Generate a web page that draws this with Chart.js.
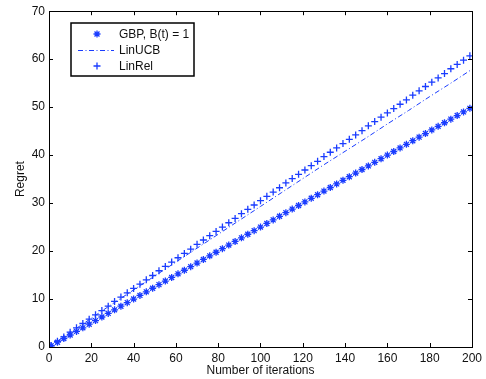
<!DOCTYPE html>
<html lang="en">
<head>
<meta charset="UTF-8">
<title>Regret vs number of iterations</title>
<script src="https://cdn.jsdelivr.net/npm/chart.js"></script>
<style>
  html, body { margin: 0; padding: 0; background: #fff; }
  #wrap { width: 486px; height: 379px; }
</style>
</head>
<body>
<div id="wrap"><canvas id="chart"></canvas></div>
<script>
// iterations where markers are drawn
const iterations = [1,4,7,10,13,16,19,22,25,28,31,34,37,40,43,46,49,52,55,58,61,64,67,70,73,76,79,82,85,88,91,94,97,100,103,106,109,112,115,118,121,124,127,130,133,136,139,142,145,148,151,154,157,160,163,166,169,172,175,178,181,184,187,190,193,196,199];

const gbpRegret = [0.25,1.0,1.75,2.5,3.25,4.0,4.75,5.5,6.25,7.0,7.75,8.5,9.25,10.0,10.75,11.5,12.25,13.0,13.75,14.5,15.25,16.0,16.75,17.5,18.25,19.0,19.75,20.5,21.25,22.0,22.75,23.5,24.25,25.0,25.75,26.5,27.25,28.0,28.75,29.5,30.25,31.0,31.75,32.5,33.25,34.0,34.75,35.5,36.25,37.0,37.75,38.5,39.25,40.0,40.75,41.5,42.25,43.0,43.75,44.5,45.25,46.0,46.75,47.5,48.25,49.0,49.75];

const linRelRegret = [0.3,1.2,2.1,3.1,4.0,4.9,5.8,6.7,7.6,8.5,9.5,10.4,11.3,12.2,13.1,14.0,14.9,15.9,16.8,17.7,18.6,19.5,20.4,21.4,22.3,23.2,24.1,25.0,25.9,26.8,27.8,28.7,29.6,30.5,31.4,32.3,33.2,34.2,35.1,36.0,36.9,37.8,38.7,39.7,40.6,41.5,42.4,43.3,44.2,45.1,46.1,47.0,47.9,48.8,49.7,50.6,51.5,52.5,53.4,54.3,55.2,56.1,57.0,58.0,58.9,59.8,60.7];

// LinUCB is drawn as a plain dash-dot line
const linUcbIterations = [0,10,20,30,40,50,60,70,80,90,100,110,120,130,140,150,160,170,180,190,200];
const linUcbRegret = [0,3.0,6.0,9.0,11.9,14.8,17.7,20.6,23.5,26.4,29.3,32.2,35.1,38.0,40.8,43.6,46.5,49.3,52.2,55.0,57.9];

const seriesNames = ['GBP, B(t) = 1', 'LinUCB', 'LinRel'];
const xTicks = [0,20,40,60,80,100,120,140,160,180,200];
const yTicks = [0,10,20,30,40,50,60,70];

const BLUE = '#1a3cff';
const FONT = 'Liberation Sans, Arial, Helvetica, sans-serif';

const pts = (xs, ys) => xs.map((x, i) => ({ x: x, y: ys[i] }));

// box around the axes with inward ticks on all four sides, matlab style
const framePlugin = {
  id: 'frame',
  afterDatasetsDraw(chart) {
    const { ctx, chartArea: a, scales } = chart;
    ctx.save();
    ctx.strokeStyle = '#000';
    ctx.lineWidth = 1;
    ctx.strokeRect(Math.round(a.left) + 0.5, Math.round(a.top) + 0.5,
      Math.round(a.right - a.left), Math.round(a.bottom - a.top));
    const len = 4;
    ctx.beginPath();
    xTicks.forEach(v => {
      const px = Math.round(scales.x.getPixelForValue(v)) + 0.5;
      ctx.moveTo(px, a.bottom); ctx.lineTo(px, a.bottom - len);
      ctx.moveTo(px, a.top); ctx.lineTo(px, a.top + len);
    });
    yTicks.forEach(v => {
      const py = Math.round(scales.y.getPixelForValue(v)) + 0.5;
      ctx.moveTo(a.left, py); ctx.lineTo(a.left + len, py);
      ctx.moveTo(a.right, py); ctx.lineTo(a.right - len, py);
    });
    ctx.stroke();
    ctx.restore();
  }
};

// legend box in the upper left corner
const legendPlugin = {
  id: 'boxLegend',
  afterDraw(chart) {
    const { ctx } = chart;
    const box = { x: 71, y: 23, w: 123, h: 53 };
    ctx.save();
    ctx.fillStyle = '#fff';
    ctx.fillRect(box.x, box.y, box.w, box.h);
    ctx.strokeStyle = '#000';
    ctx.lineWidth = 1.5;
    ctx.strokeRect(box.x, box.y, box.w, box.h);

    const rows = [34, 50, 66];
    const mx = 97;
    const ds = chart.data.datasets;
    [0, 2].forEach(i => {
      ctx.strokeStyle = BLUE;
      ctx.fillStyle = BLUE;
      ctx.lineWidth = ds[i].pointBorderWidth;
      Chart.helpers.drawPoint(ctx, {
        pointStyle: ds[i].pointStyle, radius: ds[i].pointRadius, rotation: 0, borderWidth: ds[i].pointBorderWidth
      }, mx, rows[i]);
    });
    ctx.strokeStyle = BLUE;
    ctx.lineWidth = 1;
    ctx.setLineDash(ds[1].borderDash);
    ctx.beginPath();
    ctx.moveTo(78, rows[1] + 0.5);
    ctx.lineTo(114, rows[1] + 0.5);
    ctx.stroke();
    ctx.setLineDash([]);

    ctx.fillStyle = '#111';
    ctx.font = '12px ' + FONT;
    ctx.textBaseline = 'middle';
    ctx.textAlign = 'left';
    seriesNames.forEach((name, i) => ctx.fillText(name, 119, rows[i] + 0.5));
    ctx.restore();
  }
};

new Chart(document.getElementById('chart'), {
  type: 'scatter',
  data: {
    datasets: [
      {
        label: seriesNames[0],
        data: pts(iterations, gbpRegret),
        showLine: false,
        pointStyle: 'star',
        pointRadius: 3.5,
        borderColor: BLUE,
        backgroundColor: BLUE,
        pointBorderWidth: 1.3
      },
      {
        label: seriesNames[1],
        data: pts(linUcbIterations, linUcbRegret),
        showLine: true,
        pointRadius: 0,
        borderColor: BLUE,
        borderWidth: 1,
        borderDash: [5, 2.5, 1, 2.5],
        tension: 0
      },
      {
        label: seriesNames[2],
        data: pts(iterations, linRelRegret),
        showLine: false,
        pointStyle: 'cross',
        pointRadius: 3.5,
        borderColor: BLUE,
        backgroundColor: BLUE,
        pointBorderWidth: 1.3
      }
    ]
  },
  options: {
    responsive: true,
    maintainAspectRatio: false,
    animation: false,
    layout: { padding: { top: 11, right: 12, left: 0, bottom: 0 } },
    plugins: {
      legend: { display: false },
      tooltip: { enabled: false }
    },
    scales: {
      x: {
        type: 'linear',
        min: 0,
        max: 200,
        afterBuildTicks: s => { s.ticks = xTicks.map(v => ({ value: v })); },
        afterFit: s => { s.height = 32; },
        grid: { display: false, drawTicks: false },
        border: { display: false },
        ticks: { color: '#111', padding: 4, maxRotation: 0, font: { family: FONT, size: 12 } },
        title: {
          display: true,
          text: 'Number of iterations',
          color: '#111',
          padding: { top: 0, bottom: 1 },
          font: { family: FONT, size: 12 }
        }
      },
      y: {
        type: 'linear',
        min: 0,
        max: 70,
        afterBuildTicks: s => { s.ticks = yTicks.map(v => ({ value: v })); },
        afterFit: s => { s.width = 49; },
        grid: { display: false, drawTicks: false },
        border: { display: false },
        ticks: { color: '#111', padding: 4, font: { family: FONT, size: 12 } },
        title: {
          display: true,
          text: 'Regret',
          color: '#111',
          padding: { top: 13, bottom: 0 },
          font: { family: FONT, size: 12 }
        }
      }
    }
  },
  plugins: [framePlugin, legendPlugin]
});
</script>
</body>
</html>
